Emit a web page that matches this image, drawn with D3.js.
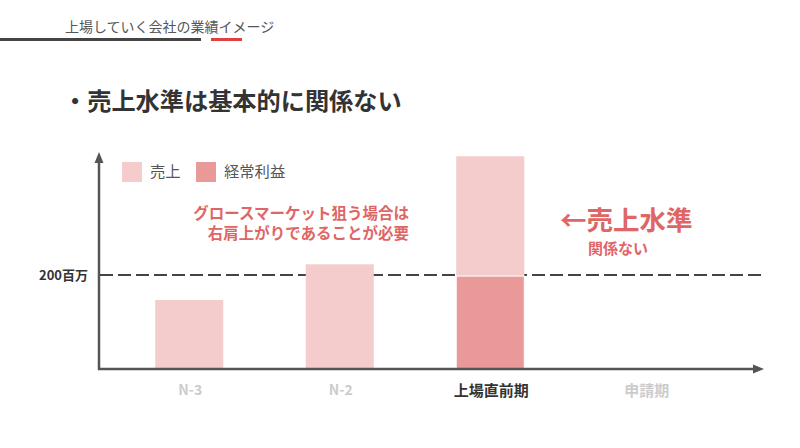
<!DOCTYPE html>
<html><head><meta charset="utf-8">
<script src="https://cdn.jsdelivr.net/npm/d3@7"></script>
<style>body{margin:0;background:#fff;}svg{display:block;font-family:"Noto Sans CJK JP","Noto Sans",sans-serif;}</style>
</head><body><svg id="c" width="800" height="448"></svg>
<script>
const categories = ["N-3", "N-2", "上場直前期", "申請期"];
const sales = [147, 223, 453, null];
const profit = [null, null, 200, null];
const refValue = 200;
const refLabel = "200百万";
const legendLabels = ["売上", "経常利益"];
const highlight = "上場直前期";

const svg = d3.select("#c");
const F = '"Noto Sans CJK JP","Noto Sans",sans-serif';

// header
svg.append("text").attr("x",65).attr("y",32).attr("font-size",14).attr("fill","#555").text("上場していく会社の業績イメージ");
svg.append("line").attr("x1",0).attr("x2",201).attr("y1",39.5).attr("y2",39.5).attr("stroke","#444").attr("stroke-width",3);
svg.append("line").attr("x1",211).attr("x2",242).attr("y1",39.5).attr("y2",39.5).attr("stroke","#e04040").attr("stroke-width",3);
svg.append("text").attr("x",63).attr("y",110).attr("font-size",24.2).attr("font-weight","bold").attr("fill","#333").text("・売上水準は基本的に関係ない");

const x = d3.scaleBand().domain(categories).range([114,716]).paddingInner(0.548).paddingOuter(0.274);
const y = d3.scaleLinear().domain([0,460]).range([369,153]);

// reference dashed line
svg.append("line").attr("x1",100).attr("x2",762).attr("y1",y(refValue)).attr("y2",y(refValue))
  .attr("stroke","#444").attr("stroke-width",2).attr("stroke-dasharray","13,5");
svg.append("text").attr("x",88).attr("y",y(refValue)+5).attr("text-anchor","end").attr("font-size",13).attr("font-weight","bold").attr("fill","#333").text(refLabel);

// bars
svg.selectAll("rect.s").data(categories.map((c,i)=>({c,v:sales[i]})).filter(d=>d.v!=null)).enter().append("rect")
  .attr("x",d=>x(d.c)).attr("width",x.bandwidth()).attr("y",d=>y(d.v)).attr("height",d=>y(0)-y(d.v)).attr("fill","#f4cccc");
svg.selectAll("rect.p").data(categories.map((c,i)=>({c,v:profit[i]})).filter(d=>d.v!=null)).enter().append("rect")
  .attr("x",d=>x(d.c)).attr("width",x.bandwidth()).attr("y",d=>y(d.v)+1).attr("height",d=>y(0)-y(d.v)-1).attr("fill","#ea9999")
  .attr("stroke","#fff").attr("stroke-width",1);

// axes
const axisC = "#555";
svg.append("line").attr("x1",99).attr("x2",99).attr("y1",160).attr("y2",370).attr("stroke",axisC).attr("stroke-width",2.5);
svg.append("line").attr("x1",98).attr("x2",756).attr("y1",369).attr("y2",369).attr("stroke",axisC).attr("stroke-width",2.5);
svg.append("path").attr("d","M99,152 L94.5,163 L103.5,163 Z").attr("fill",axisC);
svg.append("path").attr("d","M764,369 L753,364.5 L753,373.5 Z").attr("fill",axisC);

const xa = svg.append("g").attr("transform","translate(0,369)").call(d3.axisBottom(x).tickSize(0).tickPadding(16));
xa.select(".domain").remove();
xa.selectAll(".tick").attr("transform",d=>`translate(${x(d)+x.bandwidth()/2+(d==="申請期"?6:1)},0)`);
xa.selectAll("text").attr("font-size",d=>/N-/.test(d)?14:15).attr("font-weight","bold").attr("font-family",F)
  .attr("fill",d=>d===highlight?"#333":"#ccc");

// legend
const lg = svg.append("g");
const lx = [122,196], cols=["#f4cccc","#ea9999"];
legendLabels.forEach((t,i)=>{
  lg.append("rect").attr("x",lx[i]).attr("y",162).attr("width",20).attr("height",20).attr("fill",cols[i]);
  lg.append("text").attr("x",lx[i]+28).attr("y",177).attr("font-size",15.3).attr("fill","#555").text(t);
});

// annotations
const red = "#e06666";
svg.append("text").attr("x",409).attr("y",219).attr("text-anchor","end").attr("font-size",15.5).attr("font-weight","bold").attr("fill",red).text("グロースマーケット狙う場合は");
svg.append("text").attr("x",409).attr("y",239).attr("text-anchor","end").attr("font-size",15.5).attr("font-weight","bold").attr("fill",red).text("右肩上がりであることが必要");
svg.append("text").attr("x",560).attr("y",230).attr("font-size",26.5).attr("font-weight","bold").attr("fill",red).text("←売上水準");
svg.append("text").attr("x",588).attr("y",254).attr("font-size",15).attr("font-weight","bold").attr("fill",red).text("関係ない");
</script></body></html>
